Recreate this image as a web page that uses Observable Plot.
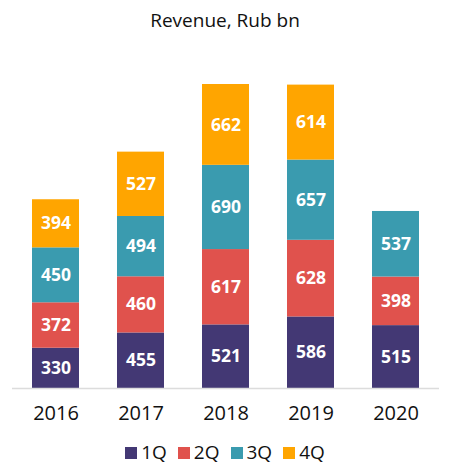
<!DOCTYPE html>
<html>
<head>
<meta charset="utf-8">
<script src="https://cdn.jsdelivr.net/npm/d3@7"></script>
<script src="https://cdn.jsdelivr.net/npm/@observablehq/plot@0.6"></script>
<style>
  body { margin: 0; background: #fff; font-family: "Open Sans", sans-serif; }
  #title { height: 36px; line-height: 40px; text-align: center; font-size: 19px; color: #111; }
  #legend { display: flex; justify-content: center; gap: 11px; font-size: 19px; color: #111; margin-top: 8px; }
  #legend span.sw { display: inline-block; width: 12px; height: 12px; margin-right: 4px; vertical-align: 0px; }
</style>
</head>
<body>
<div id="title">Revenue, Rub bn</div>
<div id="chart"></div>
<div id="legend"></div>
<script>
const years = ['2016', '2017', '2018', '2019', '2020']
const quarters = ['1Q', '2Q', '3Q', '4Q']
const q1 = [330, 455, 521, 586, 515]
const q2 = [372, 460, 617, 628, 398]
const q3 = [450, 494, 690, 657, 537]
const q4 = [394, 527, 662, 614, null]
const colores = ['#433874', '#e0524d', '#3a9baf', '#ffa500']

// tabla larga: un registro por anio y trimestre
const series = [q1, q2, q3, q4]
const data = []
years.forEach((anio, i) => {
  series.forEach((s, j) => {
    if (s[i] != null) data.push({anio, trimestre: quarters[j], valor: s[i]})
  })
})

const chart = Plot.plot({
  width: 450,
  height: 395,
  marginLeft: 12,
  marginRight: 11,
  marginTop: 48,
  marginBottom: 43,
  style: {fontFamily: '"Open Sans", sans-serif', fontSize: '20px', color: '#111'},
  x: {domain: years, paddingInner: 0.45, paddingOuter: 0.225, label: null, tickSize: 0, tickPadding: 17},
  y: {domain: [0, 2490], axis: null},
  color: {domain: quarters, range: colores},
  marks: [
    Plot.barY(data, {x: 'anio', y: 'valor', z: 'trimestre', fill: 'trimestre', order: quarters}),
    Plot.ruleY([0], {stroke: '#dcdcdc', strokeWidth: 1.5}),
    Plot.text(data, Plot.stackY({
      x: 'anio', y: 'valor', z: 'trimestre', order: quarters,
      text: d => d.valor,
      fill: 'white', fontSize: 17.5, fontWeight: 'bold'
    }))
  ]
})
document.getElementById('chart').append(chart)

// leyenda
const leyenda = d3.select('#legend')
quarters.forEach((q, i) => {
  const item = leyenda.append('div')
  item.append('span').attr('class', 'sw').style('background', colores[i])
  item.append('span').text(q)
})
</script>
</body>
</html>
